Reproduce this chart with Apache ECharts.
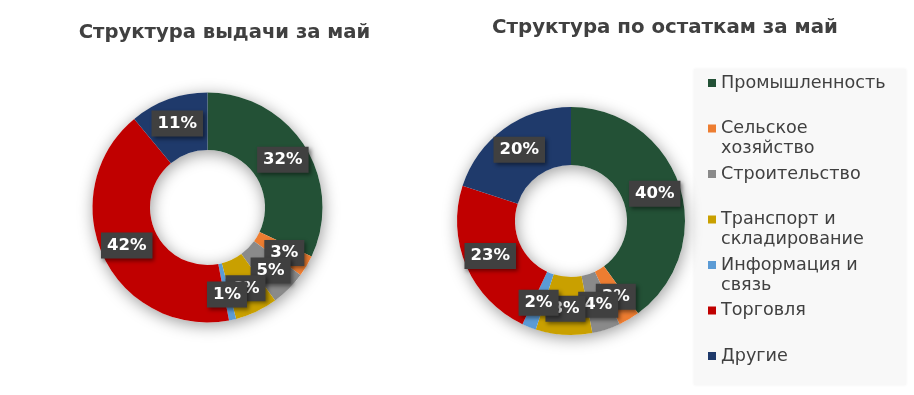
<!DOCTYPE html>
<html>
<head>
<meta charset="utf-8">
<script src="https://cdn.jsdelivr.net/npm/echarts@6/dist/echarts.min.js"></script>
<style>
html,body{margin:0;padding:0;background:#fff;}
#c{width:914px;height:395px;}
</style>
</head>
<body>
<div id="c"></div>
<script>
var categories = ['Промышленность','Сельское хозяйство','Строительство','Транспорт и складирование','Информация и связь','Торговля','Другие'];
var legendLabels = ['Промышленность','Сельское\nхозяйство','Строительство','Транспорт и\nскладирование','Информация и\nсвязь','Торговля','Другие'];
var issuanceValues = [32, 3, 5, 6, 1, 42, 11];
var balanceValues = [40, 3, 4, 8, 2, 23, 20];
var titles = ['Структура выдачи за май', 'Структура по остаткам за май'];
var colors = ['#235136','#ed7d31','#8a8a8a','#c9a000','#5b9bd5','#c00000','#1f3a6b'];

var FONT = 'DejaVu Sans';
var chart = echarts.init(document.getElementById('c'), null, {renderer:'canvas'});

function toData(vals){
  return categories.map(function(n,i){ return {name:n, value:vals[i]}; });
}
var labelMap = {};
categories.forEach(function(n,i){ labelMap[n] = legendLabels[i]; });

function shadowRing(center, radius){
  return {
    type:'pie', silent:true, center:center, radius:radius, z:1,
    label:{show:false}, labelLine:{show:false}, tooltip:{show:false},
    emphasis:{disabled:true},
    itemStyle:{color:'#ffffff', shadowBlur:16, shadowColor:'rgba(0,0,0,0.4)', shadowOffsetX:1, shadowOffsetY:3},
    data:[{name:'__shadow', value:1}]
  };
}
function donut(name, center, radius, vals){
  return {
    type:'pie', name:name, center:center, radius:radius, z:2,
    startAngle:90, clockwise:true,
    avoidLabelOverlap:false,
    labelLayout:{hideOverlap:false},
    emphasis:{scale:false},
    label:{
      show:true, position:'inside', formatter:'{c}%',
      color:'#ffffff', fontFamily:FONT, fontWeight:'bold', fontSize:16.5,
      backgroundColor:'#404040', padding:[5,6,4,6],
      shadowColor:'rgba(0,0,0,0.45)', shadowBlur:4, shadowOffsetX:2, shadowOffsetY:2
    },
    labelLine:{show:false},
    data:toData(vals)
  };
}

var option = {
  backgroundColor:'#ffffff',
  color:colors,
  animation:false,
  graphic:[
    {type:'rect', z:-10, shape:{x:694, y:69, width:212, height:316},
     style:{fill:'#f8f8f8', shadowBlur:3, shadowColor:'rgba(0,0,0,0.06)'}},
    {type:'text', x:224.5, y:33, style:{text:titles[0], fill:'#404040', font:'bold 19.6px "DejaVu Sans"', align:'center', verticalAlign:'middle'}},
    {type:'text', x:665, y:28, style:{text:titles[1], fill:'#404040', font:'bold 19.8px "DejaVu Sans"', align:'center', verticalAlign:'middle'}}
  ],
  legend:{
    orient:'vertical', left:708, top:53, padding:0,
    itemWidth:8, itemHeight:8, itemGap:-14.5, icon:'rect',
    data:categories,
    formatter:function(n){
      var l = labelMap[n];
      return l.indexOf('\n') >= 0 ? '\n' + l : '\n' + l + '\n';
    },
    textStyle:{fontFamily:FONT, fontSize:17.6, color:'#404040', lineHeight:20}
  },
  series:[
    shadowRing([207.5,207.5],[57.5,115]),
    donut(titles[0],[207.5,207.5],[57.5,115],issuanceValues),
    shadowRing([571,221],[56,114]),
    donut(titles[1],[571,221],[56,114],balanceValues)
  ]
};
chart.setOption(option);
</script>
</body>
</html>
